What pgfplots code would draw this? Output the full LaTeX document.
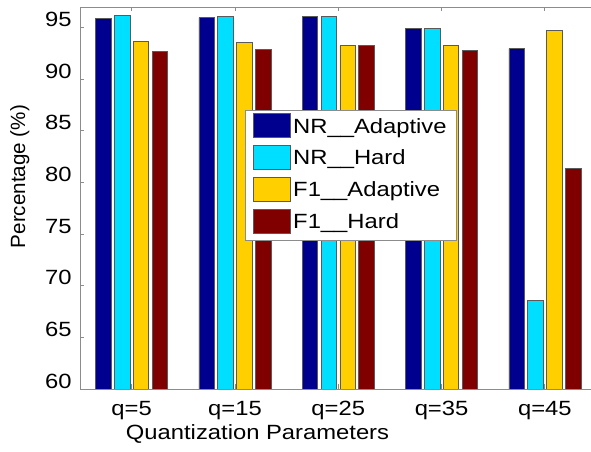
\documentclass[border=0pt]{standalone}
\usepackage{fontspec}
\setmainfont{Liberation Sans}[FakeStretch=1.155]
\newfontfamily\plainfont{Liberation Sans}
\usepackage{pgfplots}
\usepackage{pgfplotstable}
\pgfplotsset{compat=1.18}
\definecolor{cA}{RGB}{0,0,143}
\definecolor{cB}{RGB}{0,223,255}
\definecolor{cC}{RGB}{255,207,0}
\definecolor{cD}{RGB}{128,0,0}
\definecolor{edge}{RGB}{90,90,90}
\definecolor{axgray}{RGB}{140,140,140}
\newcommand\fs{\fontsize{20.6bp}{24bp}\selectfont}
\pgfplotstableread{
x NRA NRH F1A F1H
1 95.87 96.19 93.64 92.70
2 95.97 96.10 93.57 92.92
3 96.10 96.10 93.25 93.25
4 94.93 94.90 93.31 92.83
5 92.96 68.57 94.77 81.35
}\datatable
\begin{document}
\begin{tikzpicture}
\begin{axis}[
  scale only axis, width=516.5bp, height=382bp,
  xmin=0.5, xmax=5.5, ymin=60, ymax=97,
  ybar=3.3bp, bar width=15.5bp,
  xtick={1,2,3,4,5}, xticklabels={q=5,q=15,q=25,q=35,q=45},
  ytick={60,65,...,95},
  tick align=inside, major tick length=4.5bp,
  axis line style={axgray, line width=0.8bp},
  tick style={axgray, line width=0.8bp},
  /pgf/number format/assume math mode=true,
  tick label style={font=\fs, inner sep=0pt},
  xticklabel style={yshift=-12bp},
  yticklabel style={xshift=-8.3bp, yshift=8bp},
  xlabel={Quantization Parameters},
  xlabel style={font=\fs, at={(axis description cs:0.3437,-0.1317)}, anchor=base, inner sep=0pt},
  ylabel={Percentage (\%)},
  ylabel style={font=\plainfont\fontsize{20.6bp}{24bp}\selectfont, at={(axis description cs:-0.1355,0.556)}, anchor=north, inner sep=0pt},
  legend style={at={(0.3195,0.73)}, anchor=north west, draw=axgray, line width=0.8bp, font=\fs, inner xsep=8bp, inner ysep=1.6bp, row sep=0bp,
    nodes={inner xsep=2bp, inner ysep=6.1bp, text height=15bp, text depth=4.5bp}},
  legend cell align=left,
  legend image code/.code={\draw[#1,draw=edge,line width=0.8bp] (0bp,-9.85bp) rectangle (37bp,14.15bp);},
  every axis plot/.append style={draw=edge, line width=0.6bp},
]
\addplot[fill=cA] table[x=x,y=NRA]{\datatable};
\addplot[fill=cB] table[x=x,y=NRH]{\datatable};
\addplot[fill=cC] table[x=x,y=F1A]{\datatable};
\addplot[fill=cD] table[x=x,y=F1H]{\datatable};
\legend{NR\_\_Adaptive,NR\_\_Hard,F1\_\_Adaptive,F1\_\_Hard}
\end{axis}
\pgfresetboundingbox
\path[use as bounding box] ([shift={(-80bp,-63bp)}]current axis.south west) rectangle ([shift={(511bp,7bp)}]current axis.north west);
\end{tikzpicture}
\end{document}
